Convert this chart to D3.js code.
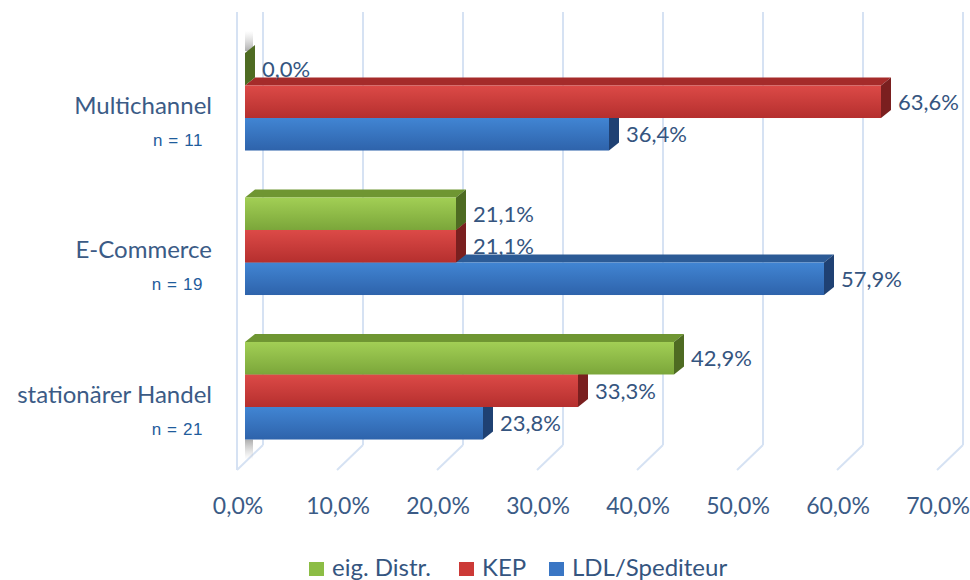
<!DOCTYPE html>
<html lang="de">
<head>
    <meta charset="UTF-8">
    <title>Distribution</title>
    <script src="https://d3js.org/d3.v7.min.js"></script>
    <style>
        body { margin: 0; background: #fff; }
        text { font-family: 'Lato', 'Open Sans', sans-serif; }
    </style>
</head>
<body>
<div id="chart"></div>
<script>
    // data
    const categories = ["Multichannel", "E-Commerce", "stationärer Handel"];
    const sampleSizes = ["n = 11", "n = 19", "n = 21"];
    const seriesNames = ["eig. Distr.", "KEP", "LDL/Spediteur"];
    const eigDistr = [0.0, 21.1, 42.9];
    const kep = [63.6, 21.1, 33.3];
    const ldl = [36.4, 57.9, 23.8];
    const tickValues = [0, 10, 20, 30, 40, 50, 60, 70];

    const width = 970, height = 580;
    const depthX = 10, depthY = 8;      // 3d bar depth
    const wallX = 18, wallY = 25;       // back wall offset from the floor front edge
    const floorY = 470;

    const svg = d3.select("#chart").append("svg")
        .attr("width", width)
        .attr("height", height);

    const x = d3.scaleLinear().domain([0, 70]).range([245, 945]);
    const y = d3.scaleBand().domain(categories)
        .range([29.5, 463])
        .paddingInner(0.325)
        .paddingOuter(0.1625);
    const ySub = d3.scaleBand().domain(seriesNames).range([0, y.bandwidth()]);

    const colors = {
        "eig. Distr.": {light: "#a2cf55", dark: "#7ba63a", top: "#6f9632", side: "#4e6b22", legend: "#8cbd45"},
        "KEP": {light: "#dc4a47", dark: "#b52f2e", top: "#a52b2a", side: "#7a1f1f", legend: "#cc3a37"},
        "LDL/Spediteur": {light: "#4185d3", dark: "#2e63ab", top: "#2c5b96", side: "#1f4173", legend: "#3a76c4"}
    };

    const defs = svg.append("defs");
    seriesNames.forEach((s, i) => {
        const g = defs.append("linearGradient")
            .attr("id", "grad" + i)
            .attr("x1", 0).attr("y1", 0).attr("x2", 0).attr("y2", 1);
        g.append("stop").attr("offset", "0%").attr("stop-color", colors[s].light);
        g.append("stop").attr("offset", "100%").attr("stop-color", colors[s].dark);
    });
    // soft shadow at the left edge above/below the bar stack
    const sh = defs.append("linearGradient").attr("id", "shadowTop")
        .attr("x1", 0).attr("y1", 0).attr("x2", 0).attr("y2", 1);
    sh.append("stop").attr("offset", "0%").attr("stop-color", "#bbb").attr("stop-opacity", 0);
    sh.append("stop").attr("offset", "100%").attr("stop-color", "#999").attr("stop-opacity", 0.8);
    const sb = defs.append("linearGradient").attr("id", "shadowBottom")
        .attr("x1", 0).attr("y1", 0).attr("x2", 0).attr("y2", 1);
    sb.append("stop").attr("offset", "0%").attr("stop-color", "#999").attr("stop-opacity", 0.8);
    sb.append("stop").attr("offset", "100%").attr("stop-color", "#bbb").attr("stop-opacity", 0);

    // grid: back wall verticals and floor diagonals
    const grid = svg.append("g").attr("stroke", "#d6e2f3").attr("stroke-width", 2).attr("fill", "none");
    grid.append("line")
        .attr("x1", x(0) - 8).attr("x2", x(0) - 8)
        .attr("y1", 12).attr("y2", floorY);
    tickValues.forEach(v => {
        grid.append("line")
            .attr("x1", x(v) + wallX).attr("x2", x(v) + wallX)
            .attr("y1", 12).attr("y2", floorY - wallY);
        grid.append("line")
            .attr("x1", x(v) - 8).attr("y1", floorY)
            .attr("x2", x(v) + wallX).attr("y2", floorY - wallY);
    });

    const yTop = y(categories[0]), yBot = y(categories[categories.length - 1]) + y.bandwidth();
    svg.append("rect")
        .attr("x", x(0)).attr("y", yTop - 22)
        .attr("width", 8).attr("height", 20)
        .attr("fill", "url(#shadowTop)");
    svg.append("rect")
        .attr("x", x(0)).attr("y", yBot)
        .attr("width", 8).attr("height", 20)
        .attr("fill", "url(#shadowBottom)");

    // x tick labels
    svg.append("g").selectAll("text")
        .data(tickValues)
        .join("text")
        .attr("x", d => x(d) - 7)
        .attr("y", 514)
        .attr("text-anchor", "middle")
        .attr("fill", "#3b5b86")
        .style("font-size", "23px")
        .text(d => d3.format(".1f")(d).replace(".", ",") + "%");

    // category labels
    const catG = svg.append("g");
    catG.selectAll("text.cat")
        .data(categories)
        .join("text")
        .attr("class", "cat")
        .attr("x", 212)
        .attr("y", d => y(d) + y.bandwidth() / 2 + 12)
        .attr("text-anchor", "end")
        .attr("fill", "#3b5b86")
        .style("font-size", "24px")
        .text(d => d);
    catG.selectAll("text.n")
        .data(sampleSizes)
        .join("text")
        .attr("class", "n")
        .attr("x", 203)
        .attr("y", (d, i) => y(categories[i]) + y.bandwidth() / 2 + 44)
        .attr("text-anchor", "end")
        .attr("fill", "#1f5c9c")
        .style("font-family", "'Liberation Sans', Arial, sans-serif")
        .style("font-size", "17px")
        .style("letter-spacing", "0.6px")
        .text(d => d);

    // bars, drawn bottom-up inside each group so the upper bar covers the lower one's top face
    const seriesValues = [eigDistr, kep, ldl];
    const bars = [];
    categories.forEach((c, ci) => {
        for (let si = seriesNames.length - 1; si >= 0; si--) {
            bars.push({cat: c, series: seriesNames[si], si: si, value: seriesValues[si][ci]});
        }
    });

    const barG = svg.append("g");
    bars.forEach(b => {
        const x0 = x(0), x1 = x(b.value);
        const y0 = y(b.cat) + ySub(b.series), h = ySub.bandwidth();
        const col = colors[b.series];
        // top face
        barG.append("polygon")
            .attr("points", [[x0, y0], [x0 + depthX, y0 - depthY], [x1 + depthX, y0 - depthY], [x1, y0]].join(" "))
            .attr("fill", col.top);
        // front face
        barG.append("rect")
            .attr("x", x0).attr("y", y0)
            .attr("width", x1 - x0).attr("height", h)
            .attr("fill", "url(#grad" + b.si + ")");
        // side face
        barG.append("polygon")
            .attr("points", [[x1, y0], [x1 + depthX, y0 - depthY], [x1 + depthX, y0 + h - depthY], [x1, y0 + h]].join(" "))
            .attr("fill", col.side);
    });

    // value labels
    svg.append("g").selectAll("text")
        .data(bars)
        .join("text")
        .attr("x", d => x(d.value) + depthX + 7)
        .attr("y", d => y(d.cat) + ySub(d.series) + ySub.bandwidth() / 2 + 8)
        .attr("fill", "#35557f")
        .style("font-size", "22px")
        .text(d => d3.format(".1f")(d.value).replace(".", ",") + "%");

    // legend
    const legendX = [309, 459, 549];
    const legend = svg.append("g").selectAll("g")
        .data(seriesNames)
        .join("g")
        .attr("transform", (d, i) => `translate(${legendX[i]}, 562)`);
    legend.append("rect")
        .attr("width", 15).attr("height", 14)
        .attr("fill", d => colors[d].legend);
    legend.append("text")
        .attr("x", 23).attr("y", 14)
        .attr("fill", "#35557f")
        .style("font-size", "24px")
        .text(d => d);
</script>
</body>
</html>
